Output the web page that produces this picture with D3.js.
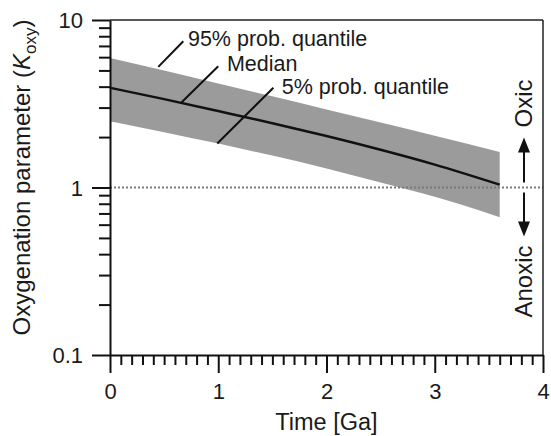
<!DOCTYPE html>
<html>
<head>
<meta charset="utf-8">
<script src="https://cdn.jsdelivr.net/npm/d3@7"></script>
<style>
  body { margin: 0; background: #fff; }
  text { font-family: "Liberation Sans", Arial, Helvetica, sans-serif; fill: #1a1a1a; }
</style>
</head>
<body>
<div id="svg"></div>
<script>
// values
var times   = [0, 0.5, 1, 1.5, 2, 2.5, 3, 3.6];
var median  = [3.94, 3.37, 2.86, 2.42, 2.03, 1.68, 1.37, 1.04];
var upper95 = [5.94, 4.99, 4.18, 3.50, 2.92, 2.44, 2.04, 1.63];
var lower5  = [2.49, 2.14, 1.83, 1.55, 1.30, 1.07, 0.88, 0.665];

var xTicks = [0, 1, 2, 3, 4];
var yTicks = [0.1, 1, 10];
var yTickLabels = ["0.1", "1", "10"];

var margin = {top: 20, right: 8, bottom: 81, left: 110},
    width = 551 - margin.left - margin.right,
    height = 436 - margin.top - margin.bottom;

var svg = d3.select("#svg")
    .append("svg")
    .attr("width", width + margin.left + margin.right)
    .attr("height", height + margin.top + margin.bottom)
    .append("g")
    .attr("transform", "translate(" + margin.left + "," + margin.top + ")");

var x = d3.scaleLinear().domain([0, 4]).range([0, width]);
var y = d3.scaleLog().domain([0.1, 10]).range([height, 0]);

var data = times.map(function(t, i) {
    return {t: t, med: median[i], hi: upper95[i], lo: lower5[i]};
});

// shaded band
svg.append("path")
    .datum(data)
    .attr("d", d3.area()
        .x(function(d) { return x(d.t); })
        .y0(function(d) { return y(d.lo); })
        .y1(function(d) { return y(d.hi); })
        .curve(d3.curveMonotoneX))
    .style("fill", "#9b9b9b");

// dotted line at K = 1
svg.append("line")
    .attr("x1", 0).attr("x2", width)
    .attr("y1", y(1)).attr("y2", y(1))
    .style("stroke", "#7a7a7a")
    .style("stroke-width", 2)
    .style("stroke-dasharray", "2,2");

// median
svg.append("path")
    .datum(data)
    .attr("d", d3.line()
        .x(function(d) { return x(d.t); })
        .y(function(d) { return y(d.med); })
        .curve(d3.curveMonotoneX))
    .style("fill", "none")
    .style("stroke", "#111")
    .style("stroke-width", 2.5);

// leader lines + labels (in data units)
var notes = [
    {text: "95% prob. quantile", from: [0.446, 5.25], to: [0.677, 7.47], at: [0.72, 6.95]},
    {text: "Median",             from: [0.662, 3.23], to: [1.0, 5.3],   at: [1.08, 4.95]},
    {text: "5% prob. quantile",  from: [0.991, 1.83], to: [1.509, 3.94], at: [1.586, 3.64]}
];
notes.forEach(function(n) {
    svg.append("line")
        .attr("x1", x(n.from[0])).attr("y1", y(n.from[1]))
        .attr("x2", x(n.to[0])).attr("y2", y(n.to[1]))
        .style("stroke", "#111")
        .style("stroke-width", 2);
    svg.append("text")
        .attr("x", x(n.at[0]))
        .attr("y", y(n.at[1]))
        .style("font-size", "21.5px")
        .text(n.text);
});

// frame top / right
svg.append("line")
    .attr("x1", 0).attr("x2", width).attr("y1", 0).attr("y2", 0)
    .style("stroke", "#222").style("stroke-width", 1.5);
svg.append("line")
    .attr("x1", width).attr("x2", width).attr("y1", 0).attr("y2", height)
    .style("stroke", "#222").style("stroke-width", 1.5);

// x axis minor + major
var xMinor = d3.range(0, 41).map(function(i) { return i / 10; })
    .filter(function(v) { return Math.abs(v - Math.round(v)) > 1e-6; });
svg.append("g")
    .attr("transform", "translate(0," + height + ")")
    .call(d3.axisBottom(x).tickValues(xMinor).tickSize(10).tickFormat(""))
    .call(function(g) { g.select(".domain").remove(); });
var gx = svg.append("g")
    .attr("transform", "translate(0," + height + ")")
    .call(d3.axisBottom(x).tickValues(xTicks).tickSize(18).tickSizeOuter(0).tickPadding(10).tickFormat(d3.format("d")));

// y axis minor + major
var yMinor = [];
[0.1, 1].forEach(function(b) { for (var k = 2; k <= 9; k++) yMinor.push(b * k); });
svg.append("g")
    .call(d3.axisLeft(y).tickValues(yMinor).tickSize(11).tickFormat(""))
    .call(function(g) { g.select(".domain").remove(); });
var gy = svg.append("g")
    .call(d3.axisLeft(y).tickValues(yTicks).tickSize(18).tickSizeOuter(0).tickPadding(9)
        .tickFormat(function(d, i) { return yTickLabels[i]; }));

svg.selectAll(".tick line").style("stroke", "#111").style("stroke-width", 2);
svg.selectAll(".domain").style("stroke", "#111").style("stroke-width", 2);
svg.selectAll(".tick text").style("font-size", "22px").style("fill", "#1a1a1a")
    .style("font-family", "'Liberation Sans', Arial, sans-serif");
gy.selectAll(".tick text").attr("dy", "0.36em");

// axis titles
svg.append("text")
    .attr("x", width / 2)
    .attr("y", height + 75)
    .attr("text-anchor", "middle")
    .style("font-size", "23.5px")
    .text("Time [Ga]");

var yl = svg.append("text")
    .attr("transform", "translate(" + (30 - margin.left) + "," + (height / 2 - 10) + ") rotate(-90)")
    .attr("text-anchor", "middle")
    .style("font-size", "24px");
yl.append("tspan").text("Oxygenation parameter (");
yl.append("tspan").style("font-style", "italic").text("K");
yl.append("tspan").attr("dy", 6).style("font-size", "17px").text("oxy");
yl.append("tspan").attr("dy", -6).text(")");

// oxic / anoxic indicator
var ax = width - 19;
function arrow(y1, y2) {
    var dir = y2 < y1 ? -1 : 1;
    svg.append("line")
        .attr("x1", ax).attr("x2", ax)
        .attr("y1", y1).attr("y2", y2 - dir * 12)
        .style("stroke", "#111").style("stroke-width", 2);
    svg.append("path")
        .attr("d", "M" + (ax - 6) + "," + (y2 - dir * 15) + "L" + ax + "," + y2 + "L" + (ax + 6) + "," + (y2 - dir * 15) + "Z")
        .style("fill", "#111");
}
arrow(y(1) - 5, y(1) - 50);
arrow(y(1) + 5, y(1) + 49);

svg.append("text")
    .attr("transform", "translate(" + (ax + 8) + "," + (y(1) - 84) + ") rotate(-90)")
    .attr("text-anchor", "middle")
    .style("font-size", "24px")
    .text("Oxic");
svg.append("text")
    .attr("transform", "translate(" + (ax + 8) + "," + (y(1) + 94) + ") rotate(-90)")
    .attr("text-anchor", "middle")
    .style("font-size", "24px")
    .text("Anoxic");
</script>
</body>
</html>
